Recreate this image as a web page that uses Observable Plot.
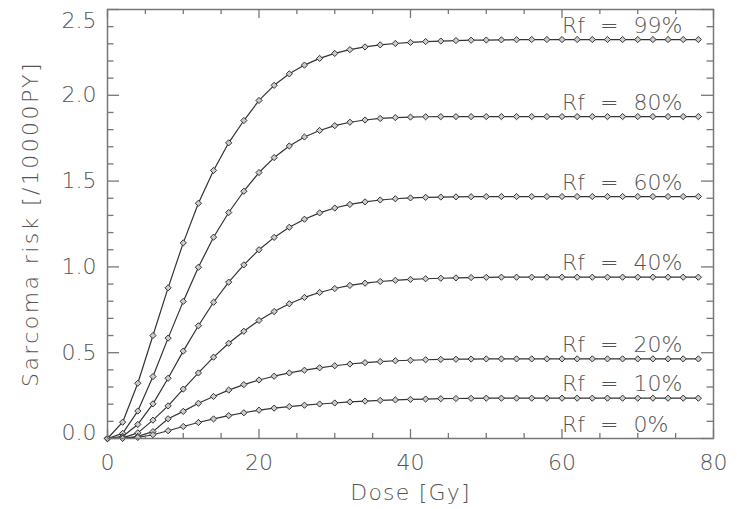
<!DOCTYPE html>
<html>
<head>
<meta charset="utf-8">
<script src="https://cdn.jsdelivr.net/npm/d3@7"></script>
<script src="https://cdn.jsdelivr.net/npm/@observablehq/plot@0.6"></script>
<style>
  html, body { margin: 0; padding: 0; background: #fff; }
  #chart svg { display: block; }
  .title-y text { letter-spacing: 2.4px; }
  .title-x text { letter-spacing: 1.2px; }
  .rf-label text { word-spacing: 8px; }
</style>
</head>
<body>
<div id="chart"></div>
<script>
// Dose grid (Gy) at which the model was evaluated
const dose = [0, 2, 4, 6, 8, 10, 12, 14, 16, 18, 20, 22, 24, 26, 28, 30, 32, 34, 36, 38,
              40, 42, 44, 46, 48, 50, 52, 54, 56, 58, 60, 62, 64, 66, 68, 70, 72, 74, 76, 78];

// Sarcoma risk [/10000 PY] for each repopulation fraction Rf
const rf99 = [0, 0.095, 0.322, 0.600, 0.878, 1.140, 1.371, 1.562, 1.723, 1.853, 1.970, 2.058, 2.125, 2.176, 2.215, 2.244, 2.266, 2.282, 2.294, 2.302,
              2.308, 2.313, 2.316, 2.319, 2.321, 2.322, 2.323, 2.324, 2.325, 2.325, 2.325, 2.325, 2.325, 2.325, 2.325, 2.325, 2.325, 2.325, 2.325, 2.325];
const rf80 = [0, 0.030, 0.160, 0.361, 0.585, 0.799, 0.998, 1.173, 1.317, 1.441, 1.550, 1.637, 1.705, 1.757, 1.795, 1.823, 1.843, 1.856, 1.865, 1.870,
              1.873, 1.875, 1.876, 1.876, 1.876, 1.876, 1.876, 1.876, 1.876, 1.876, 1.876, 1.876, 1.876, 1.876, 1.876, 1.876, 1.876, 1.876, 1.876, 1.876];
const rf60 = [0, 0.012, 0.082, 0.202, 0.351, 0.509, 0.657, 0.794, 0.911, 1.012, 1.100, 1.172, 1.231, 1.278, 1.315, 1.343, 1.364, 1.379, 1.390, 1.397,
              1.402, 1.405, 1.407, 1.408, 1.409, 1.410, 1.410, 1.410, 1.410, 1.410, 1.410, 1.410, 1.410, 1.410, 1.410, 1.410, 1.410, 1.410, 1.410, 1.410];
const rf40 = [0, 0.004, 0.033, 0.107, 0.190, 0.288, 0.382, 0.474, 0.555, 0.625, 0.688, 0.740, 0.785, 0.822, 0.851, 0.874, 0.892, 0.905, 0.915, 0.922,
              0.927, 0.931, 0.934, 0.936, 0.938, 0.939, 0.940, 0.940, 0.940, 0.940, 0.940, 0.940, 0.940, 0.940, 0.940, 0.940, 0.940, 0.940, 0.940, 0.940];
const rf20 = [0, 0.001, 0.012, 0.040, 0.115, 0.158, 0.205, 0.245, 0.282, 0.314, 0.341, 0.363, 0.382, 0.398, 0.412, 0.424, 0.434, 0.442, 0.448, 0.453,
              0.456, 0.459, 0.461, 0.462, 0.463, 0.464, 0.464, 0.464, 0.464, 0.464, 0.464, 0.464, 0.464, 0.464, 0.464, 0.464, 0.464, 0.464, 0.464, 0.464];
const rf10 = [0, 0.001, 0.006, 0.022, 0.045, 0.070, 0.093, 0.114, 0.133, 0.150, 0.165, 0.177, 0.186, 0.194, 0.201, 0.207, 0.213, 0.218, 0.222, 0.225,
              0.228, 0.230, 0.232, 0.233, 0.234, 0.235, 0.235, 0.235, 0.235, 0.235, 0.235, 0.235, 0.235, 0.235, 0.235, 0.235, 0.235, 0.235, 0.235, 0.235];
const rf0  = [0, 0, 0, 0, 0, 0, 0, 0, 0, 0, 0, 0, 0, 0, 0, 0, 0, 0, 0, 0,
              0, 0, 0, 0, 0, 0, 0, 0, 0, 0, 0, 0, 0, 0, 0, 0, 0, 0, 0, 0];

const seriesNames = ["Rf = 99%", "Rf = 80%", "Rf = 60%", "Rf = 40%", "Rf = 20%", "Rf = 10%", "Rf = 0%"];
const seriesValues = [rf99, rf80, rf60, rf40, rf20, rf10, rf0];
const markedSeries = ["Rf = 99%", "Rf = 80%", "Rf = 60%", "Rf = 40%", "Rf = 20%", "Rf = 10%"];

// Dose at which the Rf labels start
const labelDose = 60;

// Axis ticks
const xMajor = [0, 20, 40, 60, 80];
const xMinor = [5, 10, 15, 25, 30, 35, 45, 50, 55, 65, 70, 75];
const yMajor = [0, 0.5, 1, 1.5, 2, 2.5];
const yMinor = [0.1, 0.2, 0.3, 0.4, 0.6, 0.7, 0.8, 0.9, 1.1, 1.2, 1.3, 1.4, 1.6, 1.7, 1.8, 1.9, 2.1, 2.2, 2.3, 2.4];
const xTitle = "Dose [Gy]";
const yTitle = "Sarcoma risk [/10000PY]";

// Long-format rows for the line and dot marks
const rows = seriesNames.flatMap((name, s) =>
  dose.map((d, i) => ({series: name, dose: d, risk: seriesValues[s][i]})));
const markerRows = rows.filter(r => markedSeries.includes(r.series));
const labels = seriesNames.map((name, s) => ({text: name, risk: seriesValues[s][seriesValues[s].length - 1]}));

const W = 737, H = 509;
const margin = {top: 9, right: 24, bottom: 71, left: 107};
const innerW = W - margin.left - margin.right;
const innerH = H - margin.top - margin.bottom;
const majorY = 12, minorY = 6.5, majorX = 9, minorX = 5;

const axisColor = "#777";
const inkColor = "#333";
const textColor = "#555";
const fmt = d3.format(".1f");

const chart = Plot.plot({
  width: W,
  height: H,
  marginTop: margin.top,
  marginRight: margin.right,
  marginBottom: margin.bottom,
  marginLeft: margin.left,
  style: {fontFamily: "'DejaVu Sans', sans-serif", fontSize: "22px", fontWeight: 200, color: textColor, background: "#fff"},
  x: {domain: [0, 80]},
  y: {domain: [0, 2.5]},
  marks: [
    Plot.line(rows, {x: "dose", y: "risk", z: "series", stroke: inkColor, strokeWidth: 1.2}),
    Plot.dot(markerRows, {x: "dose", y: "risk", symbol: "diamond2", r: 2.8, fill: "#ccc", stroke: inkColor, strokeWidth: 1}),
    Plot.frame({stroke: axisColor, strokeWidth: 1.5}),
    // inward ticks on all four sides
    Plot.tickY(yMajor, {y: d => d, insetRight: innerW - majorY, stroke: axisColor, strokeWidth: 1.3}),
    Plot.tickY(yMinor, {y: d => d, insetRight: innerW - minorY, stroke: axisColor, strokeWidth: 1.3}),
    Plot.tickY(yMajor, {y: d => d, insetLeft: innerW - majorY, stroke: axisColor, strokeWidth: 1.3}),
    Plot.tickY(yMinor, {y: d => d, insetLeft: innerW - minorY, stroke: axisColor, strokeWidth: 1.3}),
    Plot.tickX(xMajor, {x: d => d, insetTop: innerH - majorX, stroke: axisColor, strokeWidth: 1.3}),
    Plot.tickX(xMinor, {x: d => d, insetTop: innerH - minorX, stroke: axisColor, strokeWidth: 1.3}),
    Plot.tickX(xMajor, {x: d => d, insetBottom: innerH - majorX, stroke: axisColor, strokeWidth: 1.3}),
    Plot.tickX(xMinor, {x: d => d, insetBottom: innerH - minorX, stroke: axisColor, strokeWidth: 1.3}),
    // tick labels
    Plot.axisY({ticks: yMajor.slice(1, -1), tickSize: 0, tickPadding: 11, tickFormat: fmt, label: null}),
    Plot.axisY({ticks: yMajor.slice(0, 1), tickSize: 0, tickPadding: 11, tickFormat: fmt, label: null, dy: -6}),
    Plot.axisY({ticks: yMajor.slice(-1), tickSize: 0, tickPadding: 11, tickFormat: fmt, label: null, dy: 11}),
    Plot.axisX({ticks: xMajor, tickSize: 0, tickPadding: 16, tickFormat: d => String(d), label: null}),
    // axis titles
    Plot.text([yTitle], {text: d => d, frameAnchor: "left", textAnchor: "middle", lineAnchor: "middle", rotate: -90, dx: -77, fill: textColor, className: "title-y"}),
    Plot.text([xTitle], {text: d => d, frameAnchor: "bottom", textAnchor: "middle", lineAnchor: "bottom", dy: 61, fill: textColor, className: "title-x"}),
    // series labels
    Plot.text(labels, {x: () => labelDose, y: "risk", text: "text", textAnchor: "start", lineAnchor: "bottom", dy: -7, fill: textColor, className: "rf-label"})
  ]
});

document.getElementById("chart").appendChild(chart);
</script>
</body>
</html>
